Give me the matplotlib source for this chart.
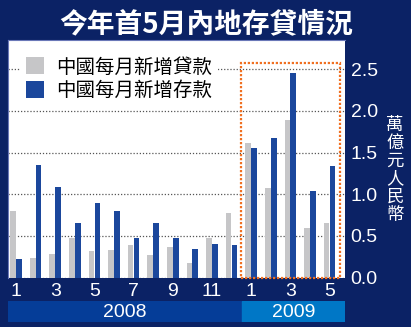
import matplotlib
matplotlib.use("Agg")
import matplotlib.pyplot as plt
from matplotlib.patches import Rectangle, Patch
import numpy as np

# ---- data ----
months = list(range(1, 18))                      # Jan 2008 .. May 2009
tick_months = [1, 3, 5, 7, 9, 11, 13, 15, 17]
tick_labels = ["1", "3", "5", "7", "9", "11", "1", "3", "5"]
loans = [0.80, 0.24, 0.28, 0.47, 0.32, 0.33, 0.39, 0.27, 0.37, 0.18, 0.48, 0.77,
         1.62, 1.07, 1.89, 0.59, 0.66]
deposits = [0.22, 1.35, 1.09, 0.65, 0.90, 0.80, 0.47, 0.65, 0.47, 0.34, 0.40, 0.39,
            1.55, 1.67, 2.46, 1.04, 1.34]
years = ["2008", "2009"]
year_months = [(1, 12), (13, 17)]
yticks = [0.0, 0.5, 1.0, 1.5, 2.0, 2.5]
legend_labels = ["中國每月新增貸款", "中國每月新增存款"]
title = "今年首5月內地存貸情況"
unit_label = "萬億元人民幣"

NAVY = "#0b2265"
GRAY = "#c6c6c8"
BLUE = "#1b479c"
ORANGE = "#f07022"
CJK = ["Noto Sans CJK TC", "DejaVu Sans"]
NUM = ["Liberation Sans", "DejaVu Sans"]

W, H = 411, 327
fig = plt.figure(figsize=(W / 100, H / 100), dpi=100, facecolor=NAVY)

def box(x0, y0, x1, y1):
    return [x0 / W, 1 - y1 / H, (x1 - x0) / W, (y1 - y0) / H]

ax = fig.add_axes(box(8, 40, 345, 277.5))
ax.set_facecolor("white")
x = np.array(months, dtype=float)
bw = 0.29
ax.bar(x - 0.15, loans, width=bw, color=GRAY, zorder=2)
ax.bar(x + 0.15, deposits, width=bw, color=BLUE, zorder=2)
ax.set_xlim(0.59, 17.79)
ax.set_ylim(0, 2.85)
ax.set_yticks(yticks)
ax.set_yticklabels([f"{v:.1f}" for v in yticks])
ax.yaxis.tick_right()
ax.set_xticks(tick_months)
ax.set_xticklabels(tick_labels)
ax.tick_params(length=0, colors="white", labelsize=14)
ax.tick_params(axis="y", pad=4)
ax.tick_params(axis="x", pad=4)
for lab in ax.get_xticklabels() + ax.get_yticklabels():
    lab.set_fontfamily(NUM)
ax.grid(axis="y", linestyle=(0, (1, 1.5)), color="#555555", linewidth=0.9, zorder=1)
ax.set_axisbelow(True)
for s in ["right", "bottom"]:
    ax.spines[s].set_visible(False)
for s in ["top", "left"]:
    ax.spines[s].set_color("#6a78b8")
    ax.spines[s].set_linewidth(0.8)

# highlight rectangle around 2009
y0m, y1m = year_months[1]
ax.add_patch(Rectangle((y0m - 0.52, 0), (y1m - y0m) + 1.05, 2.575, fill=False,
                       edgecolor=ORANGE, linewidth=1.6, linestyle=(0, (1, 0.8)),
                       zorder=3, clip_on=False))

# legend
handles = [Patch(facecolor=GRAY, edgecolor="none"), Patch(facecolor=BLUE, edgecolor="none")]
leg = ax.legend(handles, legend_labels, loc="upper left", bbox_to_anchor=(0.035, 0.955),
                frameon=True, facecolor="white", edgecolor="none", framealpha=1,
                prop={"family": CJK, "size": 14}, handlelength=0.95, handleheight=0.95,
                handletextpad=0.6, labelspacing=0.12, borderpad=0.3, borderaxespad=0)
leg.get_frame().set_boxstyle("square", pad=0)
leg.set_zorder(4)

# year band
bax = fig.add_axes(box(8, 300.7, 345, 322.3))
bax.set_xlim(ax.get_xlim())
bax.set_ylim(0, 1)
bax.axis("off")
band_colors = ["#053d98", "#0077c6"]
xl, xr = ax.get_xlim()
for i, (yr, (a, b)) in enumerate(zip(years, year_months)):
    left = xl if i == 0 else a - 0.45
    right = b + 0.5 if i == 0 else xr
    bax.add_patch(Rectangle((left, 0), right - left, 1, color=band_colors[i]))
    bax.text((left + right) / 2, 0.47, yr, color="white", fontsize=14,
             family=NUM, ha="center", va="center")

# title
fig.text(0.502, 1 - 24 / H, title, color="white", fontsize=20, fontweight="heavy",
         family=CJK, ha="center", va="center")

# unit label (vertical)
fig.text(395 / W, 1 - 170 / H, "\n".join(unit_label), color="white", fontsize=12.5,
         family=CJK, ha="center", va="center", linespacing=1.0)

fig.savefig("out.png", dpi=100, facecolor=NAVY)
